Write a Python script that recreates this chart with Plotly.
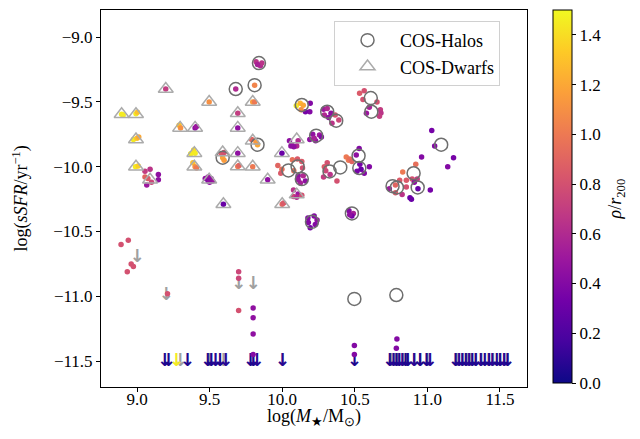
import plotly.graph_objects as go
from plotly.colors import sample_colorscale

# ---------------- data ----------------
# simulated sightlines (coloured dots): stellar mass, sSFR, rho/r200
dot_x = [
    8.894, 8.905, 8.993, 9.003, 8.975, 9.000, 9.012, 8.990, 9.008,
    9.055, 9.090, 9.147, 9.147, 9.067, 9.055, 9.075, 9.100,
    9.198, 9.290, 9.300, 9.400, 9.410, 9.370, 9.390, 9.400, 9.385, 9.400, 9.410,
    9.497, 9.470, 9.490, 9.510, 9.520, 9.490, 9.500,
    9.590, 9.580, 9.600, 9.600, 9.595,
    9.694, 9.694, 9.694, 9.694, 9.703, 9.680, 9.810,
    9.820, 9.850, 9.860, 9.830, 9.797, 9.810, 9.790, 9.830, 9.820, 9.797,
    9.998, 9.900, 10.000, 10.010,
    10.097, 10.124, 10.145, 10.193, 10.190, 10.160, 10.130,
    10.285, 10.310, 10.336, 10.290, 10.343, 10.365, 10.390, 10.320,
    10.533, 10.565, 10.556, 10.653, 10.676, 10.680, 10.670, 10.580, 10.600,
    10.190, 10.210, 10.257, 10.270, 10.230, 10.220,
    10.050, 10.067, 10.100, 10.080, 10.110, 10.060,
    9.970, 9.998, 9.990, 10.070, 10.105, 10.135, 10.080, 10.140,
    10.110, 10.145, 10.160, 10.125, 10.110,
    10.078, 10.078, 10.110, 10.135, 10.100,
    10.290, 10.310, 10.285, 10.377, 10.330, 10.300,
    10.441, 10.457, 10.465, 10.480, 10.530, 10.510, 10.543, 10.515, 10.565, 10.600, 10.535,
    10.460, 10.490, 10.480, 10.465,
    10.177, 10.220, 10.240, 10.228, 10.193, 10.180,
    11.030, 11.050, 11.180, 11.140, 10.960,
    10.830, 10.920, 10.809, 10.855, 10.895, 10.930, 10.855, 10.738, 10.780, 10.826,
    10.880, 10.890, 10.935, 11.020, 10.910, 10.780,
    8.890, 8.940, 8.960, 8.975, 8.933, 9.210,
    9.700, 9.700, 9.700, 9.800, 9.800, 9.800, 9.800,
    10.497, 10.497, 10.790, 10.786,
]
dot_y = [
    -9.595, -9.600, -9.590, -9.580, -9.790, -9.780, -9.770, -10.000, -9.995,
    -10.035, -10.020, -10.060, -10.100, -10.140, -10.080, -10.090, -10.120,
    -9.400, -9.680, -9.700, -9.700, -9.690, -9.900, -9.870, -9.895, -9.970, -10.000, -10.010,
    -9.500, -10.090, -10.080, -10.090, -10.110, -10.110, -10.120,
    -9.930, -9.900, -9.890, -9.950, -10.290,
    -9.587, -9.700, -9.895, -9.998, -9.990, -9.400, -9.370,
    -9.190, -9.220, -9.200, -9.210, -9.500, -9.500, -9.790, -9.830, -9.810, -10.000,
    -9.895, -10.100, -10.290, -10.280,
    -9.530, -9.510, -9.525, -9.510, -9.575, -9.575, -9.560,
    -9.556, -9.550, -9.587, -9.600, -9.665, -9.600, -9.640, -9.620,
    -9.433, -9.413, -9.480, -9.500, -9.560, -9.585, -9.610, -9.587, -9.540,
    -9.790, -9.750, -9.754, -9.770, -9.800, -9.780,
    -9.800, -9.830, -9.840, -9.845, -9.800, -9.840,
    -9.990, -10.020, -10.050, -9.946, -9.940, -9.960, -10.030, -10.010,
    -10.070, -10.070, -10.110, -10.125, -10.100,
    -10.180, -10.230, -10.210, -10.220, -10.235,
    -10.000, -9.970, -10.080, -10.110, -10.060, -10.030,
    -9.925, -9.950, -9.940, -9.960, -9.860, -9.910, -10.020, -10.035, -10.050, -10.000, -9.980,
    -10.340, -10.360, -10.380, -10.370,
    -10.395, -10.380, -10.410, -10.446, -10.470, -10.430,
    -9.720, -9.840, -9.930, -10.000, -9.925,
    -10.040, -9.980, -10.105, -10.105, -10.095, -10.095, -10.156, -10.170, -10.200, -10.215,
    -10.240, -10.250, -10.170, -10.180, -10.120, -10.140,
    -10.600, -10.567, -10.750, -10.770, -10.810, -10.980,
    -10.810, -10.860, -11.110, -11.090, -11.165, -11.290, -11.450,
    -11.380, -11.450, -11.330, -11.400,
]
dot_rho = [
    1.45, 1.45, 1.45, 1.30, 1.45, 1.30, 1.20, 1.45, 1.35,
    0.70, 0.65, 0.45, 0.45, 0.50, 0.90, 0.85, 0.75,
    0.70, 1.30, 1.10, 0.45, 0.50, 1.45, 1.40, 1.45, 1.30, 1.10, 1.00,
    1.10, 0.45, 0.50, 0.45, 0.50, 0.40, 0.45,
    1.20, 0.85, 0.80, 1.15, 0.30,
    0.70, 0.45, 0.45, 1.00, 0.90, 0.60, 1.05,
    0.65, 0.60, 0.65, 0.55, 1.15, 1.00, 0.90, 1.20, 1.15, 1.00,
    0.30, 0.45, 0.90, 0.85,
    1.45, 1.25, 1.20, 0.40, 0.40, 0.35, 1.10,
    0.50, 0.60, 0.45, 0.60, 0.65, 0.80, 0.75, 0.45,
    0.85, 0.80, 0.80, 0.80, 0.70, 0.65, 0.70, 0.50, 0.55,
    0.45, 0.45, 0.50, 0.40, 0.45, 0.55,
    0.45, 0.50, 0.60, 0.45, 0.60, 0.45,
    0.90, 0.95, 0.85, 0.95, 0.85, 0.85, 0.95, 0.80,
    0.45, 0.60, 0.45, 0.55, 0.50,
    0.65, 0.75, 0.50, 0.80, 0.60,
    0.85, 0.80, 0.70, 0.80, 0.65, 0.75,
    1.00, 1.00, 0.95, 0.90, 0.40, 0.45, 0.30, 0.35, 0.40, 0.40, 0.35,
    0.40, 0.55, 0.35, 0.45,
    0.40, 0.40, 0.45, 0.40, 0.35, 0.40,
    0.35, 0.40, 0.35, 0.40, 0.40,
    1.00, 0.95, 0.85, 0.85, 0.80, 0.70, 0.80, 0.50, 0.85, 0.65,
    0.30, 0.30, 0.30, 0.35, 0.45, 0.90,
    0.80, 0.80, 0.80, 0.80, 0.80, 0.80,
    0.75, 0.75, 0.80, 0.45, 0.45, 0.45, 0.40,
    0.40, 0.40, 0.40, 0.40,
]

# COS-Halos galaxies
halos_x = [9.59, 9.68, 9.81, 9.84, 9.83, 10.135, 10.31, 10.372, 10.61, 10.614,
           10.234, 10.043, 10.106, 10.135, 10.326, 10.40, 10.526, 10.531, 10.48,
           10.205, 11.095, 10.905, 10.933, 10.76, 10.79, 10.497, 10.786]
halos_y = [-9.93, -9.40, -9.37, -9.20, -9.83, -9.523, -9.575, -9.644, -9.47, -9.575,
           -9.76, -10.028, -9.998, -10.095, -10.036, -10.005, -9.915, -10.01, -10.36,
           -10.425, -9.83, -10.05, -10.16, -10.15, -10.16, -11.02, -10.99]

# COS-Dwarfs galaxies
dwarfs_x = [8.894, 8.993, 8.993, 8.993, 9.09, 9.198, 9.297, 9.40, 9.395, 9.395,
            9.497, 9.497, 9.59, 9.595, 9.694, 9.694, 9.694, 9.694, 9.797, 9.797,
            9.797, 9.998, 9.90, 10.0, 10.10, 10.10]
dwarfs_y = [-9.595, -9.595, -9.79, -10.0, -10.10, -9.40, -9.70, -9.70, -9.895, -10.0,
            -9.50, -10.10, -9.89, -10.29, -9.587, -9.70, -9.895, -9.998, -9.50, -9.80,
            -10.0, -9.895, -10.10, -10.29, -9.79, -10.215]

# observed sSFR upper limits (grey arrows)
obs_ul_x = [9.0, 9.2, 9.70, 9.80, 9.297, 9.50, 9.595, 9.80, 10.0,
            10.75, 10.78, 10.80, 10.83, 10.86, 10.91, 10.95, 11.00,
            11.20, 11.24, 11.27, 11.30, 11.33, 11.37, 11.42, 11.45, 11.50, 11.53, 11.55]
obs_ul_y = [-10.70, -10.99, -10.91, -10.91, -11.5, -11.5, -11.5, -11.5, -11.5,
            -11.5, -11.5, -11.5, -11.5, -11.5, -11.5, -11.5, -11.5,
            -11.5, -11.5, -11.5, -11.5, -11.5, -11.5, -11.5, -11.5, -11.5, -11.5, -11.5]

# simulated sSFR upper limits (coloured arrows)
sim_ul_x = [9.19, 9.216, 9.27, 9.347, 9.485, 9.51, 9.54, 9.57, 9.61, 9.78, 9.80, 9.825,
            10.0, 10.497, 10.74, 10.765, 10.786, 10.805, 10.825, 10.848, 10.864, 10.906,
            10.947, 10.993, 11.016, 11.193, 11.216, 11.239, 11.262, 11.285, 11.308, 11.331,
            11.366, 11.393, 11.423, 11.446, 11.476, 11.499, 11.526, 11.55]
sim_ul_y = [-11.5] * 40
sim_ul_rho = [0.05, 0.05, 1.45, 0.05, 0.05, 0.05, 0.08, 0.05, 0.08, 0.05, 0.05, 0.08,
              0.08, 0.05, 0.05, 0.08, 0.05, 0.05, 0.08, 0.05, 0.05, 0.08,
              0.05, 0.05, 0.08, 0.05, 0.08, 0.05, 0.05, 0.08, 0.05, 0.05,
              0.08, 0.05, 0.05, 0.08, 0.05, 0.05, 0.08, 0.05]

RHO_MAX = 1.5
FONT = "Liberation Serif"
ARROW_FONT = dict(family="DejaVu Sans", size=18, weight="bold")

# ---------------- figure ----------------
fig = go.Figure()

fig.add_trace(go.Scatter(
    x=obs_ul_x, y=obs_ul_y, mode="text", text=["↓"] * len(obs_ul_x),
    textposition="middle center",
    textfont=dict(**ARROW_FONT, color="#a0a0a0"),
    showlegend=False, hoverinfo="skip"))

sim_cols = sample_colorscale("Plasma", [r / RHO_MAX for r in sim_ul_rho])
fig.add_trace(go.Scatter(
    x=sim_ul_x, y=sim_ul_y, mode="text", text=["↓"] * len(sim_ul_x),
    textposition="middle center",
    textfont=dict(**ARROW_FONT, color=sim_cols),
    showlegend=False, hoverinfo="skip"))

fig.add_trace(go.Scatter(
    x=dot_x, y=dot_y, mode="markers", showlegend=False,
    marker=dict(size=5.5, color=dot_rho, colorscale="Plasma", cmin=0, cmax=RHO_MAX,
                line=dict(width=0),
                colorbar=dict(
                    x=1.061, xanchor="left", y=1.0, yanchor="top",
                    xpad=0, ypad=0,
                    len=0.99, lenmode="fraction", thickness=19,
                    outlinecolor="black", outlinewidth=1,
                    ticks="outside", ticklen=4, tickcolor="black",
                    tickvals=[0, 0.2, 0.4, 0.6, 0.8, 1.0, 1.2, 1.4],
                    tickformat=".1f",
                    tickfont=dict(family=FONT, size=17, color="black"),
                ),
                showscale=True)))

fig.add_trace(go.Scatter(
    x=halos_x, y=halos_y, mode="markers", name="COS-Halos",
    marker=dict(symbol="circle-open", size=13, color="#6e6e6e", line=dict(width=1.5))))

fig.add_trace(go.Scatter(
    x=dwarfs_x, y=dwarfs_y, mode="markers", name="COS-Dwarfs",
    marker=dict(symbol="triangle-up-open", size=13, color="#ababab", line=dict(width=1.5))))

# page body adds an 8 px offset, so the figure is 8 px smaller with shifted margins
fig.update_layout(
    width=632, height=431,
    margin=dict(l=93, r=113, t=2, b=52, autoexpand=False),
    paper_bgcolor="white", plot_bgcolor="white",
    font=dict(family=FONT, size=17, color="black"),
    legend=dict(x=0.547, y=0.971, xanchor="left", yanchor="top",
                bgcolor="rgba(255,255,255,0.8)", bordercolor="#d0d0d0", borderwidth=1,
                itemwidth=55, tracegroupgap=0,
                font=dict(family=FONT, size=18)),
    annotations=[
        dict(text="<i>ρ</i>/<i>r</i><sub>200</sub>", textangle=-90,
             x=1.211, y=0.5, xref="paper", yref="paper",
             xanchor="center", yanchor="middle",
             showarrow=False, font=dict(family=FONT, size=18)),
        dict(text="log(<i>M</i><sub>★</sub>/M<sub>⊙</sub>)",
             x=0.5, y=-0.080, xref="paper", yref="paper",
             xanchor="center", yanchor="middle",
             showarrow=False, font=dict(family=FONT, size=18)),
        dict(text="log(<i>sSFR</i>/yr<sup>−1</sup>)", textangle=-90,
             x=-0.19, y=0.5, xref="paper", yref="paper",
             xanchor="center", yanchor="middle",
             showarrow=False, font=dict(family=FONT, size=18)),
    ],
)

fig.update_xaxes(range=[8.752, 11.686], tickvals=[9.0, 9.5, 10.0, 10.5, 11.0, 11.5],
                 tickformat=".1f", showgrid=False, zeroline=False, automargin=False,
                 showline=True, linecolor="black", linewidth=1, mirror=True,
                 ticks="outside", ticklen=4, tickcolor="black", ticklabelstandoff=-7)
fig.update_yaxes(range=[-11.70, -8.79], tickvals=[-9.0, -9.5, -10.0, -10.5, -11.0, -11.5],
                 tickformat=".1f", showgrid=False, zeroline=False, automargin=False,
                 showline=True, linecolor="black", linewidth=1, mirror=True,
                 ticks="outside", ticklen=4, tickcolor="black")

fig.write_html("out.html")
